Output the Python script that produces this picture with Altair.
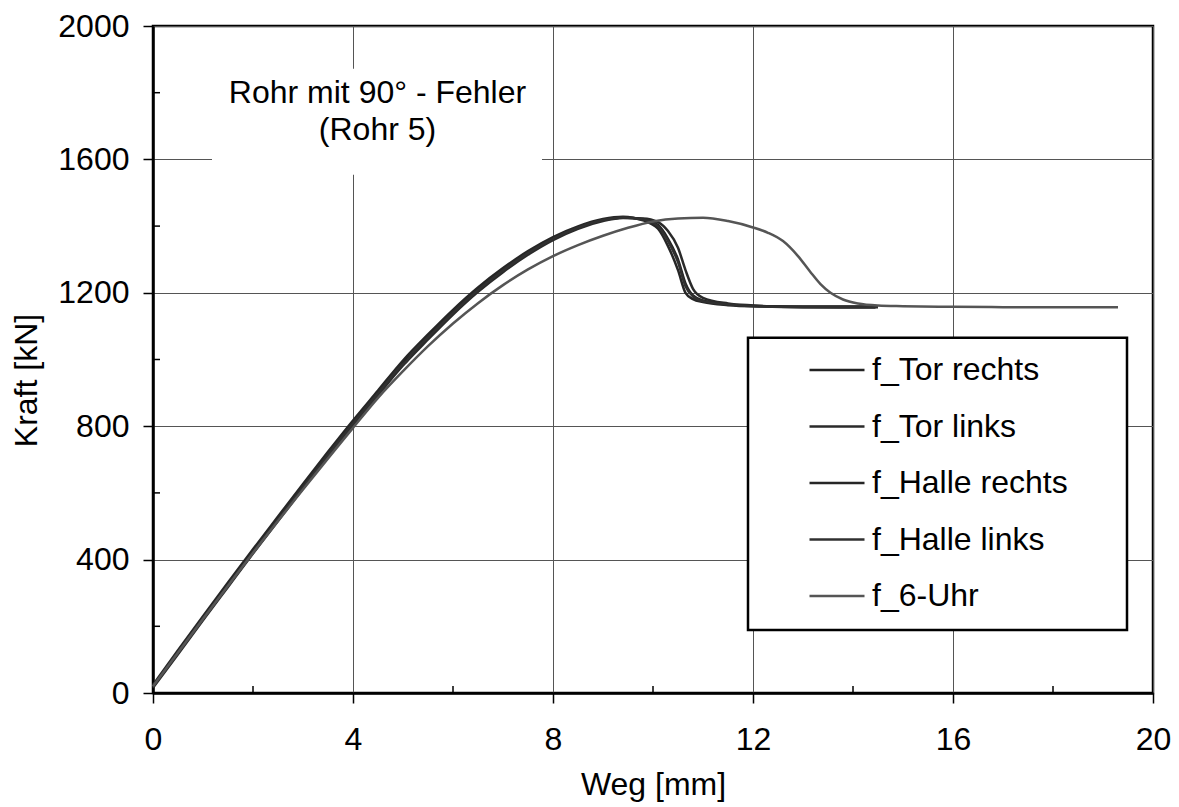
import altair as alt
import pandas as pd

# ---- data ----
series_names = ["f_Tor rechts", "f_Tor links", "f_Halle rechts", "f_Halle links", "f_6-Uhr"]
series_colors = ["#222222", "#2a2a2a", "#262626", "#303030", "#555555"]
series_widths = [2.5, 2.5, 2.5, 2.5, 1.0]

dark_x = [0, 0.5, 1, 1.5, 2, 2.5, 3, 3.5, 4, 4.5, 5, 5.5, 6, 6.5, 7, 7.5, 8, 8.5, 9, 9.4,
          9.8, 10.1, 10.3, 10.5, 10.65, 10.8, 11.0, 11.5, 12.0, 13.0, 14.0, 14.45]

tor_r_x = dark_x
tor_r_y = [20, 122, 224, 324, 424, 522, 620, 716, 810, 900, 990, 1068, 1142, 1210, 1268, 1320, 1363, 1396, 1418, 1426,
           1421, 1403, 1362, 1300, 1228, 1192, 1177, 1166, 1161, 1158, 1158, 1158]

tor_l_x = dark_x
tor_l_y = [16, 116, 218, 318, 418, 516, 613, 709, 803, 893, 982, 1060, 1135, 1203, 1262, 1314, 1358, 1392, 1415, 1424,
           1423, 1412, 1385, 1335, 1268, 1212, 1185, 1168, 1162, 1157, 1156, 1156]

halle_r_x = dark_x
halle_r_y = [24, 128, 230, 331, 431, 529, 627, 723, 817, 907, 997, 1075, 1149, 1216, 1274, 1325, 1367, 1399, 1421, 1428,
             1417, 1392, 1340, 1268, 1200, 1181, 1172, 1163, 1160, 1159, 1159, 1160]

halle_l_x = [0, 0.5, 1, 1.5, 2, 2.5, 3, 3.5, 4, 4.5, 5.0, 5.08, 5.15, 5.5, 6, 6.5, 7, 7.5, 8, 8.5, 9, 9.4,
             9.8, 10.1, 10.3, 10.5, 10.65, 10.8, 11.0, 11.5, 12.0, 13.0, 14.0, 14.5]
halle_l_y = [19, 120, 222, 322, 422, 520, 618, 714, 808, 898, 986, 996, 1012, 1066, 1140, 1208, 1267, 1319, 1362, 1395, 1418, 1426,
             1420, 1400, 1355, 1292, 1220, 1189, 1175, 1165, 1160, 1157, 1157, 1157]

six_x = [0, 1, 2, 3, 4, 4.5, 5, 5.5, 6, 6.5, 7, 7.5, 8, 8.5, 9, 9.5, 10, 10.5, 11, 11.5,
         12, 12.3, 12.6, 12.9, 13.14, 13.35, 13.55, 13.8, 14.1, 14.5, 15, 16, 17, 18, 19.3]
six_y = [20, 222, 420, 610, 795, 885, 965, 1040, 1108, 1169, 1223, 1270, 1310, 1343, 1371, 1395, 1414, 1423, 1425, 1415,
         1396, 1380, 1355, 1310, 1264, 1226, 1200, 1180, 1168, 1162, 1160, 1158, 1157, 1157, 1157]

x_ticks = [0, 4, 8, 12, 16, 20]
y_ticks = [0, 400, 800, 1200, 1600, 2000]
x_minor = [2, 6, 10, 14, 18]
y_minor = [200, 600, 1000, 1400, 1800]

ann_lines = ["Rohr mit 90° - Fehler", "(Rohr 5)"]
ann_x = [4.49, 4.49]
ann_y = [1770, 1659]

# ---- build table ----
rows = []
for name, xs, ys in [
    ("f_Tor rechts", tor_r_x, tor_r_y),
    ("f_Tor links", tor_l_x, tor_l_y),
    ("f_Halle rechts", halle_r_x, halle_r_y),
    ("f_Halle links", halle_l_x, halle_l_y),
    ("f_6-Uhr", six_x, six_y),
]:
    for i, (a, b) in enumerate(zip(xs, ys)):
        rows.append({"series": name, "weg": a, "kraft": b, "i": i})
df = pd.DataFrame(rows)

FONT = "Liberation Sans"
W, H = 1000, 667
FS = 32

xscale = alt.Scale(domain=[0, 20], nice=False, zero=False)
yscale = alt.Scale(domain=[0, 2000], nice=False, zero=False)

xaxis = alt.Axis(values=x_ticks, grid=True, gridColor="#555555", gridWidth=1,
                 tickSize=10, tickColor="black", tickWidth=1.5,
                 labelFontSize=FS, labelFont=FONT, labelColor="black", labelPadding=21,
                 labelFlush=False, labelOverlap=False, format="d",
                 domainColor="black", domainWidth=2.5,
                 title="Weg [mm]", titleFont=FONT, titleFontSize=FS, titleFontWeight="normal",
                 titleColor="black", titlePadding=14)
yaxis = alt.Axis(values=y_ticks, grid=True, gridColor="#555555", gridWidth=1,
                 tickSize=10, tickColor="black", tickWidth=1.5,
                 labelFontSize=FS, labelFont=FONT, labelColor="black", labelPadding=14,
                 labelFlush=False, labelOverlap=False, format="d",
                 domainColor="black", domainWidth=2.5,
                 title="Kraft [kN]", titleFont=FONT, titleFontSize=FS, titleFontWeight="normal",
                 titleColor="black", titleAngle=270, titleAlign="center", titleBaseline="middle",
                 titleX=-127, titleY=354)

legend = alt.Legend(orient="none", legendX=595, legendY=312, title=None,
                    symbolType="stroke", symbolSize=3025, symbolOffset=57,
                    padding=3, rowPadding=11.5, labelOffset=6,
                    labelFont=FONT, labelFontSize=FS, labelColor="black",
                    labelLimit=400)

# white box behind the annotation text
box = alt.Chart(pd.DataFrame({"a": [0]})).mark_rect(color="white").encode(
    x=alt.datum(1.18, scale=xscale, axis=xaxis),
    x2=alt.datum(7.78),
    y=alt.datum(1872, scale=yscale, axis=yaxis),
    y2=alt.datum(1554),
)

# framed white legend panel
legend_box = alt.Chart(pd.DataFrame({"a": [0]})).mark_rect(
    fill="white", stroke="black", strokeWidth=2.5
).encode(
    x=alt.datum(11.9), x2=alt.datum(19.48),
    y=alt.datum(1065), y2=alt.datum(189),
)

lines = alt.Chart(df).mark_line(interpolate="monotone").encode(
    x=alt.X("weg:Q", scale=xscale, axis=xaxis),
    y=alt.Y("kraft:Q", scale=yscale, axis=yaxis),
    color=alt.Color("series:N", scale=alt.Scale(domain=series_names, range=series_colors),
                    sort=series_names, legend=legend),
    strokeWidth=alt.StrokeWidth("series:N", scale=alt.Scale(domain=series_names, range=series_widths),
                                sort=series_names, legend=legend),
    detail="series:N",
    order="i:Q",
)

ann = alt.Chart(pd.DataFrame({"t": ann_lines, "x": ann_x, "y": ann_y})).mark_text(
    font=FONT, fontSize=FS, color="black", align="center", baseline="alphabetic"
).encode(x="x:Q", y="y:Q", text="t:N")

xminor = alt.Chart(pd.DataFrame({"v": x_minor})).mark_rule(color="black", strokeWidth=1.5).encode(
    x="v:Q", y=alt.value(H), y2=alt.value(H - 7))
yminor = alt.Chart(pd.DataFrame({"v": y_minor})).mark_rule(color="black", strokeWidth=1.5).encode(
    y="v:Q", x=alt.value(0), x2=alt.value(7))

chart = alt.layer(box, legend_box, lines, ann, xminor, yminor).properties(
    width=W, height=H,
    autosize=alt.AutoSizeParams(type="none"),
    padding={"left": 145, "top": 18, "right": 18, "bottom": 114},
    background="white",
).configure_view(stroke="black", strokeWidth=2.5)

chart.save("out.html", embed_options={"renderer": "svg", "actions": False})
